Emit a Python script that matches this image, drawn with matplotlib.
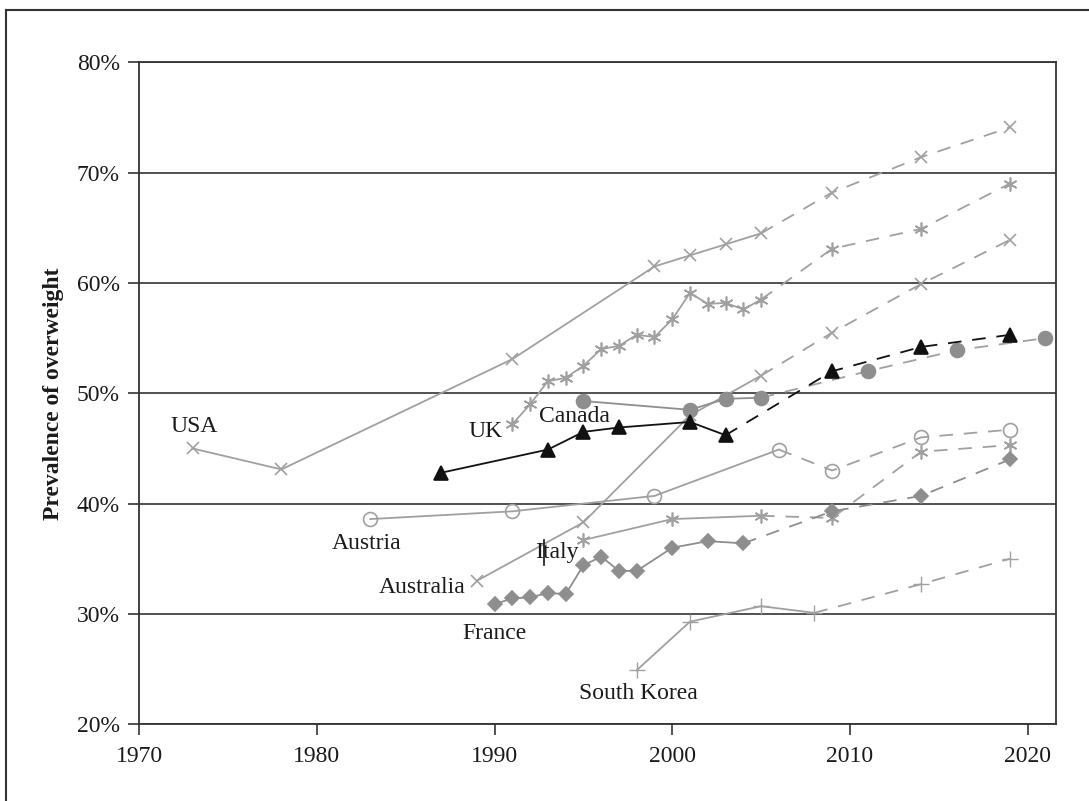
import matplotlib
matplotlib.use('Agg')
import matplotlib.pyplot as plt
from matplotlib.lines import Line2D
from matplotlib.ticker import FuncFormatter

# prevalence of overweight (%), solid = measured, dashed = later surveys
usa_years = [1973, 1978, 1991, 1999, 2001, 2003, 2005]
usa_vals = [45.0, 43.1, 53.1, 61.5, 62.5, 63.5, 64.5]
usa_years2 = [2009, 2014, 2019]
usa_vals2 = [68.2, 71.4, 74.1]

uk_years = [1991, 1992, 1993, 1994, 1995, 1996, 1997, 1998, 1999, 2000, 2001, 2002, 2003, 2004, 2005]
uk_vals = [47.2, 49.0, 51.1, 51.4, 52.5, 54.0, 54.3, 55.3, 55.1, 56.7, 59.1, 58.1, 58.2, 57.6, 58.5]
uk_years2 = [2009, 2014, 2019]
uk_vals2 = [63.1, 64.9, 69.0]

tri_years = [1987, 1993, 1995, 1997, 2001, 2003]
tri_vals = [42.8, 44.9, 46.5, 46.9, 47.4, 46.2]
tri_years2 = [2009, 2014, 2019]
tri_vals2 = [52.0, 54.2, 55.3]

can_years = [1995, 2001, 2003, 2005]
can_vals = [49.3, 48.5, 49.5, 49.6]
can_years2 = [2011, 2016, 2021]
can_vals2 = [52.0, 53.9, 55.0]

aut_years = [1983, 1991, 1999, 2006]
aut_vals = [38.6, 39.3, 40.7, 44.9]
aut_years2 = [2009, 2014, 2019]
aut_vals2 = [43.0, 46.0, 46.7]

aus_years = [1989, 1995, 2001, 2005]
aus_vals = [33.0, 38.3, 48.0, 51.6]
aus_years2 = [2009, 2014, 2019]
aus_vals2 = [55.5, 59.9, 63.9]

ita_years = [1995, 2000, 2005]
ita_vals = [36.7, 38.6, 38.9]
ita_years2 = [2009, 2014, 2019]
ita_vals2 = [38.7, 44.7, 45.3]

fra_years = [1990, 1991, 1992, 1993, 1994, 1995, 1996, 1997, 1998, 2000, 2002, 2004]
fra_vals = [30.9, 31.4, 31.5, 31.9, 31.8, 34.4, 35.2, 33.9, 33.9, 36.0, 36.6, 36.4]
fra_years2 = [2009, 2014, 2019]
fra_vals2 = [39.3, 40.7, 44.0]

kor_years = [1998, 2001, 2005, 2008]
kor_vals = [24.9, 29.3, 30.7, 30.1]
kor_years2 = [2014, 2019]
kor_vals2 = [32.7, 35.0]

# country labels and where they sit
labels = ['USA', 'UK', 'Canada', 'Austria', 'Italy', 'Australia', 'France', 'South Korea']
label_x = [1973.1, 1989.5, 1994.5, 1982.8, 1993.5, 1985.9, 1990.0, 1998.1]
label_y = [47.0, 46.5, 47.9, 36.4, 35.6, 32.4, 28.2, 22.8]

plt.rcParams['font.family'] = ['Liberation Serif', 'DejaVu Serif']

GRAY = '#a0a0a0'
DGRAY = '#8e8e8e'

fig = plt.figure(figsize=(10.89, 8.01), dpi=100)
ax = fig.add_axes([0.1279, 0.0958, 0.8418, 0.8264])

def draw(x, y, x2, y2, color, mk, ms, mfc=None, mew=1.2, dashcolor=None):
    if mfc is None:
        mfc = color
    dc = dashcolor or color
    # dashed continuation starts at the last solid point
    ax.plot([x[-1]] + x2, [y[-1]] + y2, color=dc, lw=1.3, ls=(0, (7.5, 6)),
            marker=mk, ms=ms, mfc=mfc, mec=color, mew=mew, markevery=list(range(1, len(x2) + 1)))
    ax.plot(x, y, color=color, lw=1.3, marker=mk, ms=ms, mfc=mfc, mec=color, mew=mew)

ast = (6, 2, 0)
draw(usa_years, usa_vals, usa_years2, usa_vals2, GRAY, 'x', 8)
draw(uk_years, uk_vals, uk_years2, uk_vals2, GRAY, ast, 10)
draw(aus_years, aus_vals, aus_years2, aus_vals2, GRAY, 'x', 8)
draw(aut_years, aut_vals, aut_years2, aut_vals2, GRAY, 'o', 10, mfc='none')
draw(ita_years, ita_vals, ita_years2, ita_vals2, GRAY, ast, 10)
draw(fra_years, fra_vals, fra_years2, fra_vals2, DGRAY, 'D', 7.5)
draw(kor_years, kor_vals, kor_years2, kor_vals2, GRAY, '+', 12, mew=1.0)
draw(can_years, can_vals, can_years2, can_vals2, DGRAY, 'o', 10, dashcolor=GRAY)
draw(tri_years, tri_vals, tri_years2, tri_vals2, '#111111', '^', 10)

for name, lx, ly in zip(labels, label_x, label_y):
    ax.text(lx, ly, name, fontsize=17, color='#1a1a1a', ha='center', va='center')

# small stroke through the Italy label
ax.plot([1992.8, 1992.8], [34.4, 36.7], color='#111111', lw=1.2)

ax.set_xlim(1970, 2021.6)
ax.set_ylim(20, 80)
ax.set_xticks([1970, 1980, 1990, 2000, 2010, 2020])
ax.set_yticks([20, 30, 40, 50, 60, 70, 80])
ax.yaxis.set_major_formatter(FuncFormatter(lambda v, p: '%d%%' % v))
ax.grid(axis='y', color='#333333', lw=1.2)
ax.set_axisbelow(True)
ax.tick_params(direction='out', length=8, width=1.2, color='#333333', labelsize=17, labelcolor='#1a1a1a')
ax.tick_params(axis='x', pad=8)
ax.tick_params(axis='y', pad=6)
for s in ax.spines.values():
    s.set_color('#333333')
    s.set_linewidth(1.3)

ax.set_ylabel('Prevalence of overweight', fontsize=17, fontweight='bold', color='#1a1a1a', labelpad=9)

# outer frame (top and left sides visible)
fig.add_artist(Line2D([0.0055, 1.0], [0.9875, 0.9875], color='#333333', lw=1.5))
fig.add_artist(Line2D([0.0055, 0.0055], [0.0, 0.9875], color='#333333', lw=1.5))

plt.savefig('out.png', dpi=100)
